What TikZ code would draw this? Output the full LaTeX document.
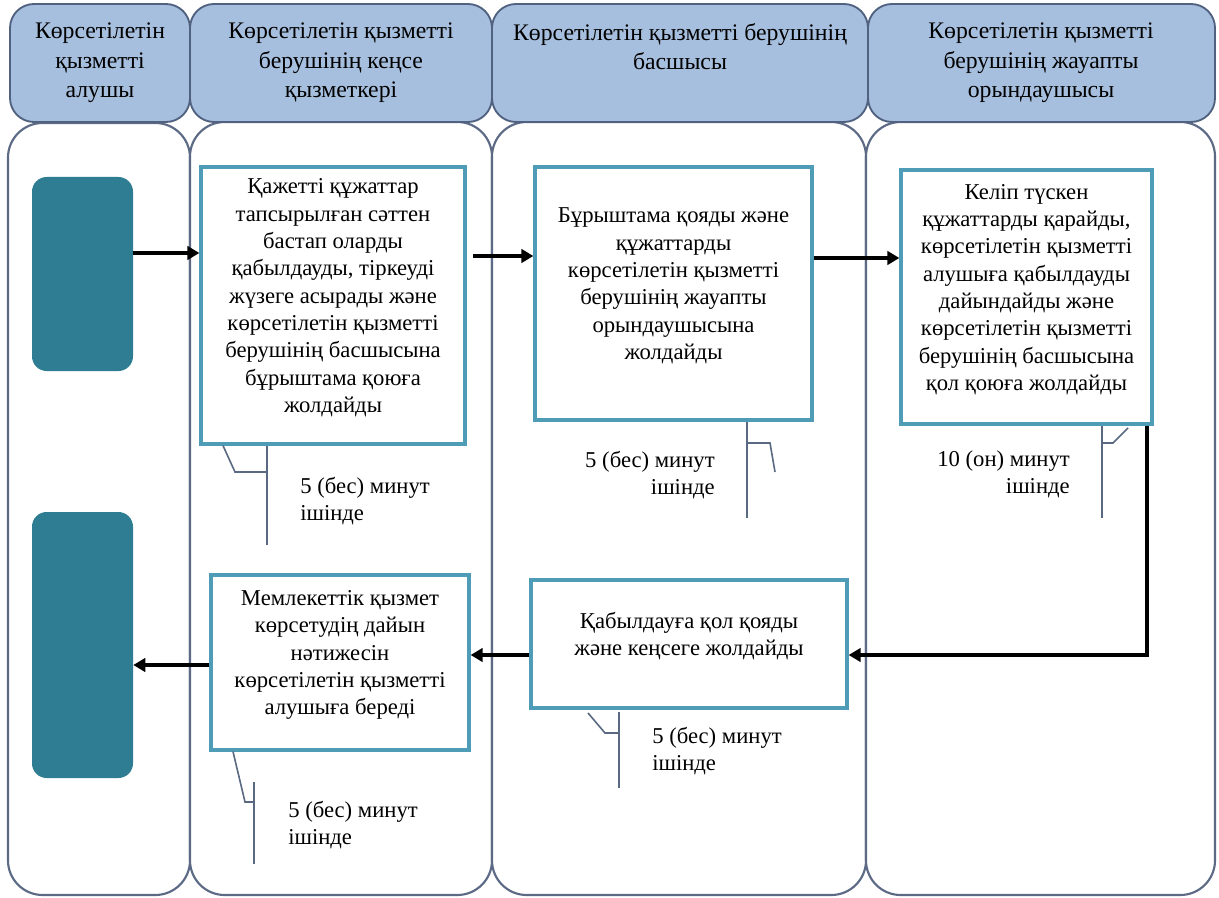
\documentclass[tikz,border=0pt]{standalone}
\usepackage{fontspec}
\setmainfont{Liberation Serif}
\usetikzlibrary{fit,arrows.meta}
\definecolor{hdrfill}{RGB}{167,191,222}
\definecolor{hdrline}{RGB}{80,98,128}
\definecolor{laneline}{RGB}{92,106,134}
\definecolor{tealbox}{RGB}{46,125,146}
\definecolor{procline}{RGB}{78,156,182}
\definecolor{callline}{RGB}{90,105,130}
\begin{document}
\begin{tikzpicture}[x=0.75pt,y=-0.75pt,
  lane/.style={draw=laneline,line width=1.6pt,fill=white,rounded corners=26pt,inner sep=0pt},
  hdr/.style={draw=hdrline,line width=1.4pt,fill=hdrfill,rounded corners=18pt,inner sep=0pt},
  htext/.style={align=center,inner sep=0pt,font=\fontsize{17.8}{22}\selectfont,anchor=north},
  actor/.style={fill=tealbox,rounded corners=11pt,inner sep=0pt},
  proc/.style={draw=procline,line width=2.4pt,fill=white,inner sep=0pt,align=center,font=\fontsize{17}{20.5}\selectfont},
  arr/.style={line width=3pt,-{Triangle[length=9pt,width=10pt]}},
  call/.style={draw=callline,line width=1.2pt},
  ctext/.style={inner sep=0pt,font=\fontsize{17}{20}\selectfont}
]
\useasboundingbox (0,0) rectangle (1219,898);
% lanes
\node[lane,fit={(8,123) (190,895)}] (l1) {};
\node[lane,fit={(190,122) (492,895)}] (l2) {};
\node[lane,fit={(492,122) (866,895)}] (l3) {};
\node[lane,fit={(866,122) (1215,895)}] (l4) {};
% headers
\node[hdr,fit={(10,4) (190,122)}] (h1) {};
\node[hdr,fit={(190,4) (492,122)}] (h2) {};
\node[hdr,fit={(492,4) (868,122)}] (h3) {};
\node[hdr,fit={(868,4) (1215,122)}] (h4) {};
\node[htext] (ht1) at (100,23) {Көрсетілетін\\қызметті\\алушы};
\node[htext] (ht2) at (341,23) {Көрсетілетін қызметті\\берушінің кеңсе\\қызметкері};
\node[htext] (ht3) at (680,23) {Көрсетілетін қызметті берушінің\\басшысы};
\node[htext] (ht4) at (1041,23) {Көрсетілетін қызметті\\берушінің жауапты\\орындаушысы};
% actors
\node[actor,fit={(32,177) (133,371)}] (t1) {};
\node[actor,fit={(32,512) (133,778)}] (t2) {};
% process boxes
\node[proc,fit={(201,167) (465,444)}] (b1) {Қажетті құжаттар\\тапсырылған сәттен\\бастап оларды\\қабылдауды, тіркеуді\\жүзеге асырады және\\көрсетілетін қызметті\\берушінің басшысына\\бұрыштама қоюға\\жолдайды};
\node[proc,fit={(535,167) (812,420)}] (b2) {Бұрыштама қояды және\\құжаттарды\\көрсетілетін қызметті\\берушінің жауапты\\орындаушысына\\жолдайды};
\node[proc,fit={(901,170) (1152,424)}] (b3) {Келіп түскен\\құжаттарды қарайды,\\көрсетілетін қызметті\\алушыға қабылдауды\\дайындайды және\\көрсетілетін қызметті\\берушінің басшысына\\қол қоюға жолдайды};
\node[proc,fit={(531,580) (847,708)}] (b4) {Қабылдауға қол қояды\\және кеңсеге жолдайды};
\node[proc,fit={(211,575) (469,750)}] (b5) {Мемлекеттік қызмет\\көрсетудің дайын\\нәтижесін\\көрсетілетін қызметті\\алушыға береді};
% arrows
\coordinate (a1) at (0,253);
\coordinate (a2) at (0,256);
\coordinate (a3) at (0,258);
\coordinate (a4) at (1147,655);
\coordinate (a6) at (0,665);
\draw[arr] (t1.east |- a1) -- (b1.west |- a1);
\draw[arr] ([xshift=5pt]b1.east |- a2) -- (b2.west |- a2);
\draw[arr] (b2.east |- a3) -- (b3.west |- a3);
\draw[arr] (b3.south -| a4) -- (a4) -- (b4.east |- a4);
\draw[arr] (b4.west |- a4) -- (b5.east |- a4);
\draw[arr] (b5.west |- a6) -- (t2.east |- a6);
% callouts
\coordinate (c1) at (223,0);
\draw[call] (b1.south -| c1) -- (235,472) -- (267,472);
\draw[call] (267,446) -- (267,545);
\node[ctext,anchor=west,align=left] (ct1) at (300,501) {5 (бес) минут\\ішінде};
\coordinate (c2) at (747,0);
\draw[call] (b2.south -| c2) -- (747,518);
\draw[call] (747,443) -- (770,443) -- (775,472);
\node[ctext,anchor=east,align=right] (ct2) at (715,475) {5 (бес) минут\\ішінде};
\coordinate (c3) at (1102,0);
\draw[call] (b3.south -| c3) -- (1102,518);
\draw[call] (1102,443) -- (1113,443) -- (1128,428);
\node[ctext,anchor=east,align=right] (ct3) at (1070,474) {10 (он) минут\\ішінде};
\coordinate (c4) at (619,0);
\draw[call] (619,712) -- (619,788);
\draw[call] (619,733) -- (605,733) -- (588,713);
\node[ctext,anchor=west,align=left] (ct4) at (652,751) {5 (бес) минут\\ішінде};
\coordinate (c5) at (233,0);
\draw[call] (b5.south -| c5) -- (245,802) -- (254,802);
\draw[call] (254,782) -- (254,864);
\node[ctext,anchor=west,align=left] (ct5) at (288,825) {5 (бес) минут\\ішінде};
\end{tikzpicture}
\end{document}
